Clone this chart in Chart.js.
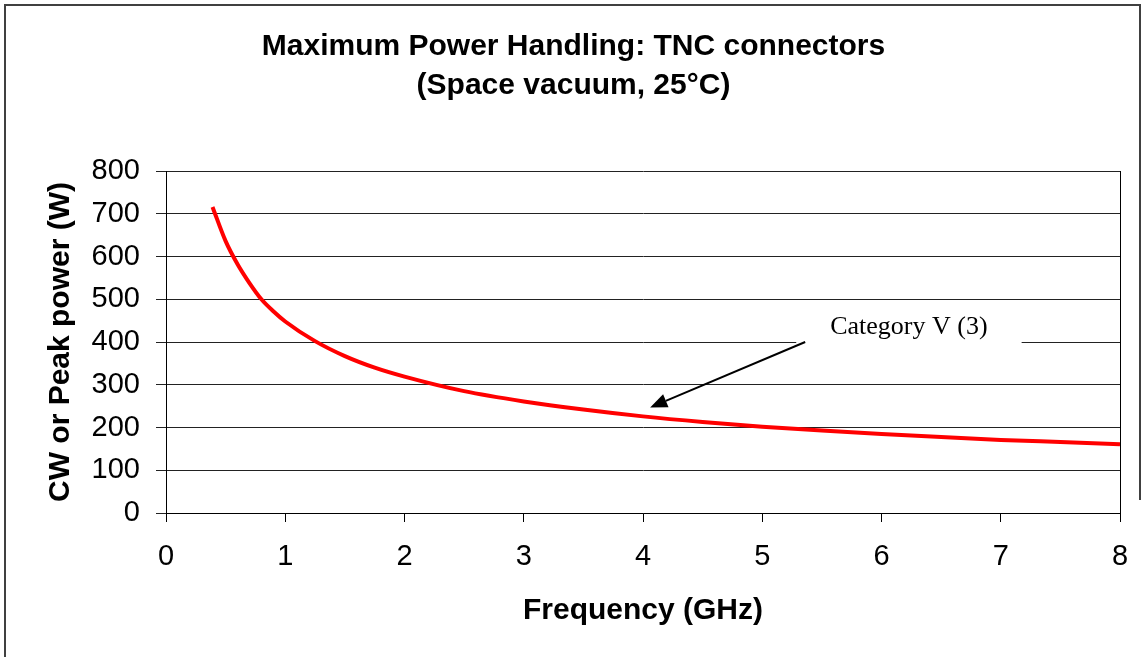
<!DOCTYPE html>
<html>
<head>
<meta charset="utf-8">
<script src="https://cdn.jsdelivr.net/npm/chart.js@4.4.1/dist/chart.umd.min.js"></script>
<style>
  html, body { margin: 0; padding: 0; background: #ffffff; }
  canvas { display: block; }
</style>
</head>
<body>
<canvas id="c" width="1147" height="657"></canvas>
<script>
// ---- data ----
const titleLines = ['Maximum Power Handling: TNC connectors', '(Space vacuum, 25°C)'];
const xAxisTitle = 'Frequency (GHz)';
const yAxisTitle = 'CW or Peak power (W)';
const frequencyGHz = [0.39, 0.5, 0.6, 0.7, 0.8, 0.9, 1.0, 1.25, 1.5, 1.75, 2.0, 2.5, 3.0, 3.5, 4.0, 4.5, 5.0, 5.5, 6.0, 6.5, 7.0, 7.5, 8.0];
const powerW =       [716, 636, 582, 538, 500, 472, 448, 402, 367, 340, 319, 285, 261, 242, 226, 213, 202, 193, 185, 178, 171, 166, 161];
const seriesLabel = 'Category V (3)';
// annotation anchors in data units: [x, y]
const labelAnchor = [6.23, 435];
const arrowFrom = [5.36, 400];
const arrowTo = [4.06, 247];

const points = frequencyGHz.map((f, i) => ({ x: f, y: powerW[i] }));
const FONT = "'Liberation Sans', Arial, sans-serif";

const annotationPlugin = {
  id: 'annot',
  afterDatasetsDraw(chart) {
    const { ctx, scales: { x, y }, chartArea } = chart;
    ctx.save();
    ctx.strokeStyle = '#000';
    ctx.lineWidth = 1;
    ctx.beginPath();
    ctx.moveTo(Math.round(chartArea.right) + 0.5, Math.round(chartArea.top));
    ctx.lineTo(Math.round(chartArea.right) + 0.5, Math.round(chartArea.bottom));
    ctx.stroke();

    const lx = x.getPixelForValue(labelAnchor[0]);
    const ly = y.getPixelForValue(labelAnchor[1]);
    ctx.font = "26px 'Liberation Serif', 'Times New Roman', serif";
    const w = ctx.measureText(seriesLabel).width;
    ctx.fillStyle = '#fff';
    ctx.fillRect(lx - w / 2 - 34, ly - 18, w + 68, 34);
    ctx.fillStyle = '#000';
    ctx.textAlign = 'center';
    ctx.textBaseline = 'middle';
    ctx.fillText(seriesLabel, lx, ly);

    const x1 = x.getPixelForValue(arrowFrom[0]), y1 = y.getPixelForValue(arrowFrom[1]);
    const x2 = x.getPixelForValue(arrowTo[0]), y2 = y.getPixelForValue(arrowTo[1]);
    const ang = Math.atan2(y2 - y1, x2 - x1);
    const hl = 17, hw = 7;
    const bx = x2 - hl * Math.cos(ang), by = y2 - hl * Math.sin(ang);
    ctx.strokeStyle = '#000';
    ctx.lineWidth = 2;
    ctx.beginPath();
    ctx.moveTo(x1, y1);
    ctx.lineTo(bx, by);
    ctx.stroke();
    ctx.beginPath();
    ctx.moveTo(x2, y2);
    ctx.lineTo(bx + hw * Math.sin(ang), by - hw * Math.cos(ang));
    ctx.lineTo(bx - hw * Math.sin(ang), by + hw * Math.cos(ang));
    ctx.closePath();
    ctx.fillStyle = '#000';
    ctx.fill();
    ctx.restore();
  },
  afterDraw(chart) {
    const { ctx } = chart;
    ctx.save();
    ctx.strokeStyle = '#404040';
    ctx.lineWidth = 2;
    ctx.beginPath();
    ctx.moveTo(5, 657);
    ctx.lineTo(5, 5);
    ctx.lineTo(1140, 5);
    ctx.lineTo(1140, 500);
    ctx.stroke();
    ctx.restore();
  }
};

new Chart(document.getElementById('c'), {
  type: 'line',
  data: {
    datasets: [{
      label: seriesLabel,
      data: points,
      borderColor: '#ff0000',
      borderWidth: 4,
      pointRadius: 0,
      fill: false,
      cubicInterpolationMode: 'monotone'
    }]
  },
  options: {
    responsive: false,
    animation: false,
    devicePixelRatio: 1,
    layout: { padding: { left: 0, right: 0, top: 0, bottom: 0 } },
    plugins: {
      legend: { display: false },
      tooltip: { enabled: false },
      title: {
        display: true,
        text: titleLines,
        color: '#000',
        font: { family: FONT, size: 30, weight: 'bold', lineHeight: 1.3 },
        padding: { top: 27, bottom: 66 }
      }
    },
    scales: {
      x: {
        type: 'linear',
        min: 0, max: 8,
        afterFit: s => { s.height = 144; },
        ticks: { stepSize: 1, color: '#000', font: { family: FONT, size: 29 }, padding: 18, maxRotation: 0 },
        grid: { drawOnChartArea: false, drawTicks: true, tickLength: 9, color: '#000', lineWidth: 1 },
        border: { display: true, color: '#000', width: 1 },
        title: { display: true, text: xAxisTitle, color: '#000', font: { family: FONT, size: 30, weight: 'bold' }, padding: { top: 0, bottom: 28 } }
      },
      y: {
        min: 0, max: 800,
        afterFit: s => { s.width = 166; },
        ticks: { stepSize: 100, color: '#000', font: { family: FONT, size: 29 }, padding: 16 },
        grid: { color: '#222', lineWidth: 1, tickLength: 10, drawTicks: true },
        border: { display: true, color: '#000', width: 1 },
        title: { display: true, text: yAxisTitle, color: '#000', font: { family: FONT, size: 30, weight: 'bold' }, padding: { top: 43, bottom: 0 } }
      },
      spacer: {
        position: 'right',
        min: 0, max: 800,
        afterFit: s => { s.width = 27; },
        ticks: { display: false },
        grid: { display: false },
        border: { display: false }
      }
    }
  },
  plugins: [annotationPlugin]
});
</script>
</body>
</html>
